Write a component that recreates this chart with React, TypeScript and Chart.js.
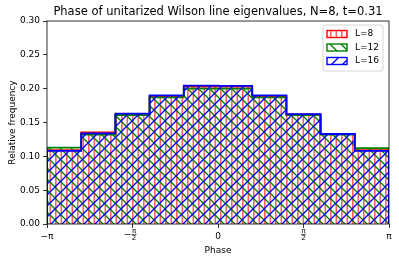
import React, { useEffect, useRef } from 'react';
import { Chart, registerables } from 'chart.js';

Chart.register(...registerables);

const PI = Math.PI;
// histogram bin edges in units of pi
const binEdgesOverPi = [-1, -0.8, -0.6, -0.4, -0.2, 0, 0.2, 0.4, 0.6, 0.8, 1];
const binEdges = binEdgesOverPi.map((f) => f * PI);

const seriesLabels = ['L=8', 'L=12', 'L=16'];
const seriesColors = ['#ff0000', '#008000', '#0000ff'];
const seriesHatches = ['vert', 'back', 'fwd'];

const freqL8 = [0.109, 0.1355, 0.162, 0.189, 0.203, 0.203, 0.189, 0.162, 0.133, 0.109];
const freqL12 = [0.113, 0.132, 0.161, 0.187, 0.2, 0.2, 0.187, 0.161, 0.132, 0.112];
const freqL16 = [0.108, 0.134, 0.163, 0.19, 0.2045, 0.204, 0.19, 0.1625, 0.133, 0.108];

const xTickValues = [-PI, -PI / 2, 0, PI / 2, PI];
const xTickLabels = ['−π', '', '0', '', 'π'];
const xFractionTicks = [
  { value: -PI / 2, sign: '−', num: 'π', den: '2' },
  { value: PI / 2, sign: '', num: 'π', den: '2' },
];
const yMin = 0;
const yMax = 0.3;
const yStep = 0.05;

const titleText = 'Phase of unitarized Wilson line eigenvalues, N=8, t=0.31';
const xTitle = 'Phase';
const yTitle = 'Relative frequency';

const FONT = '"DejaVu Sans", sans-serif';

function makePattern(kind: string, color: string): CanvasPattern | string {
  const size = 11;
  const c = document.createElement('canvas');
  c.width = size;
  c.height = size;
  const g = c.getContext('2d');
  if (!g) return 'transparent';
  if (kind === 'vert') {
    g.fillStyle = 'rgba(255,0,0,0.62)';
    g.fillRect(0, 0, 1.6, size);
    g.fillRect(5.5, 0, 1.6, size);
  } else {
    g.strokeStyle = color;
    g.lineWidth = 1.3;
    for (const off of [-size, 0, size]) {
      g.beginPath();
      if (kind === 'fwd') {
        g.moveTo(off - 1, size + 1);
        g.lineTo(off + size + 1, -1);
      } else {
        g.moveTo(off - 1, -1);
        g.lineTo(off + size + 1, size + 1);
      }
      g.stroke();
    }
  }
  const p = g.createPattern(c, 'repeat');
  return p || 'transparent';
}

function stepPoints(vals: number[]) {
  const pts: { x: number; y: number }[] = [{ x: binEdges[0], y: 0 }];
  vals.forEach((v, i) => pts.push({ x: binEdges[i], y: v }));
  pts.push({ x: binEdges[vals.length], y: vals[vals.length - 1] });
  pts.push({ x: binEdges[vals.length], y: 0 });
  return pts;
}

export default function App() {
  const ref = useRef<HTMLCanvasElement | null>(null);

  useEffect(() => {
    document.body.style.margin = '0';
    const canvas = ref.current;
    if (!canvas) return;
    const allSeries = [freqL8, freqL12, freqL16];
    const patterns = seriesHatches.map((h, i) => makePattern(h, seriesColors[i]));

    const extras = {
      id: 'extras',
      afterDraw(chart: any) {
        const ctx = chart.ctx as CanvasRenderingContext2D;
        const area = chart.chartArea;
        ctx.save();
        // frame
        ctx.strokeStyle = '#000';
        ctx.lineWidth = 0.8;
        ctx.strokeRect(area.left, area.top, area.right - area.left, area.bottom - area.top);
        // title
        ctx.fillStyle = '#000';
        ctx.font = `11.5px ${FONT}`;
        ctx.textAlign = 'center';
        ctx.textBaseline = 'middle';
        ctx.fillText(titleText, (area.left + area.right) / 2, 12);
        // fraction ticks
        const xs = chart.scales.x;
        for (const f of xFractionTicks) {
          const px = xs.getPixelForValue(f.value);
          const cx = f.sign ? px + 1.5 : px;
          if (f.sign) {
            ctx.font = `9px ${FONT}`;
            ctx.textAlign = 'center';
            ctx.fillText(f.sign, px - 5, 234.5);
          }
          ctx.font = `7px ${FONT}`;
          ctx.textAlign = 'center';
          ctx.fillText(f.num, cx, 231);
          ctx.fillText(f.den, cx, 238.5);
          ctx.lineWidth = 0.6;
          ctx.beginPath();
          ctx.moveTo(cx - 2.5, 234.5);
          ctx.lineTo(cx + 2.5, 234.5);
          ctx.stroke();
        }
        // legend
        const lx = 323, ly = 25, lw = 60, lh = 46;
        ctx.fillStyle = 'rgba(255,255,255,0.8)';
        ctx.strokeStyle = '#cccccc';
        ctx.lineWidth = 0.8;
        ctx.beginPath();
        (ctx as any).roundRect ? (ctx as any).roundRect(lx, ly, lw, lh, 2) : ctx.rect(lx, ly, lw, lh);
        ctx.fill();
        ctx.stroke();
        const rows = [34, 47.5, 61];
        seriesLabels.forEach((lab, i) => {
          const cy = rows[i];
          ctx.fillStyle = patterns[i] as any;
          ctx.fillRect(327, cy - 3.5, 20, 7);
          ctx.strokeStyle = seriesColors[i];
          ctx.lineWidth = 1.4;
          ctx.strokeRect(327, cy - 3.5, 20, 7);
          ctx.fillStyle = '#000';
          ctx.font = `9px ${FONT}`;
          ctx.textAlign = 'left';
          ctx.textBaseline = 'middle';
          ctx.fillText(lab, 355, cy);
        });
        ctx.restore();
      },
    };

    const chart = new Chart(canvas, {
      type: 'line',
      data: {
        datasets: allSeries.map((vals, i) => ({
          label: seriesLabels[i],
          data: stepPoints(vals),
          stepped: 'before' as const,
          borderColor: seriesColors[i],
          borderWidth: 1.8,
          backgroundColor: patterns[i] as any,
          fill: 'origin',
          pointRadius: 0,
          order: 3 - i,
        })),
      },
      options: {
        responsive: false,
        animation: false,
        devicePixelRatio: 1,
        layout: { padding: { top: 21, right: 10, left: 0, bottom: 0 } },
        plugins: {
          legend: { display: false },
          title: { display: false },
          tooltip: { enabled: false },
        },
        scales: {
          x: {
            type: 'linear',
            min: binEdges[0],
            max: binEdges[binEdges.length - 1],
            afterBuildTicks: (s: any) => {
              s.ticks = xTickValues.map((v) => ({ value: v }));
            },
            afterFit: (s: any) => {
              s.height = 39;
            },
            ticks: {
              autoSkip: false,
              maxRotation: 0,
              padding: 3,
              color: '#000',
              font: { family: FONT, size: 9 },
              callback: (_v: any, i: number) => xTickLabels[i],
            },
            grid: { drawOnChartArea: false, drawTicks: true, tickLength: 4, color: '#000', lineWidth: 0.8 },
            border: { display: false },
            title: {
              display: true,
              text: xTitle,
              color: '#000',
              font: { family: FONT, size: 9 },
              padding: { top: 0, bottom: 7 },
            },
          },
          y: {
            type: 'linear',
            min: yMin,
            max: yMax,
            afterFit: (s: any) => {
              s.width = 47;
            },
            ticks: {
              stepSize: yStep,
              padding: 3,
              color: '#000',
              font: { family: FONT, size: 9 },
              callback: (v: any) => Number(v).toFixed(2),
            },
            grid: { drawOnChartArea: false, drawTicks: true, tickLength: 4, color: '#000', lineWidth: 0.8 },
            border: { display: false },
            title: {
              display: true,
              text: yTitle,
              color: '#000',
              font: { family: FONT, size: 9 },
              padding: { top: 7, bottom: 0 },
            },
          },
        },
      },
      plugins: [extras],
    });
    return () => chart.destroy();
  }, []);

  return <canvas ref={ref} width={399} height={263} style={{ display: 'block', width: 399, height: 263 }} />;
}
